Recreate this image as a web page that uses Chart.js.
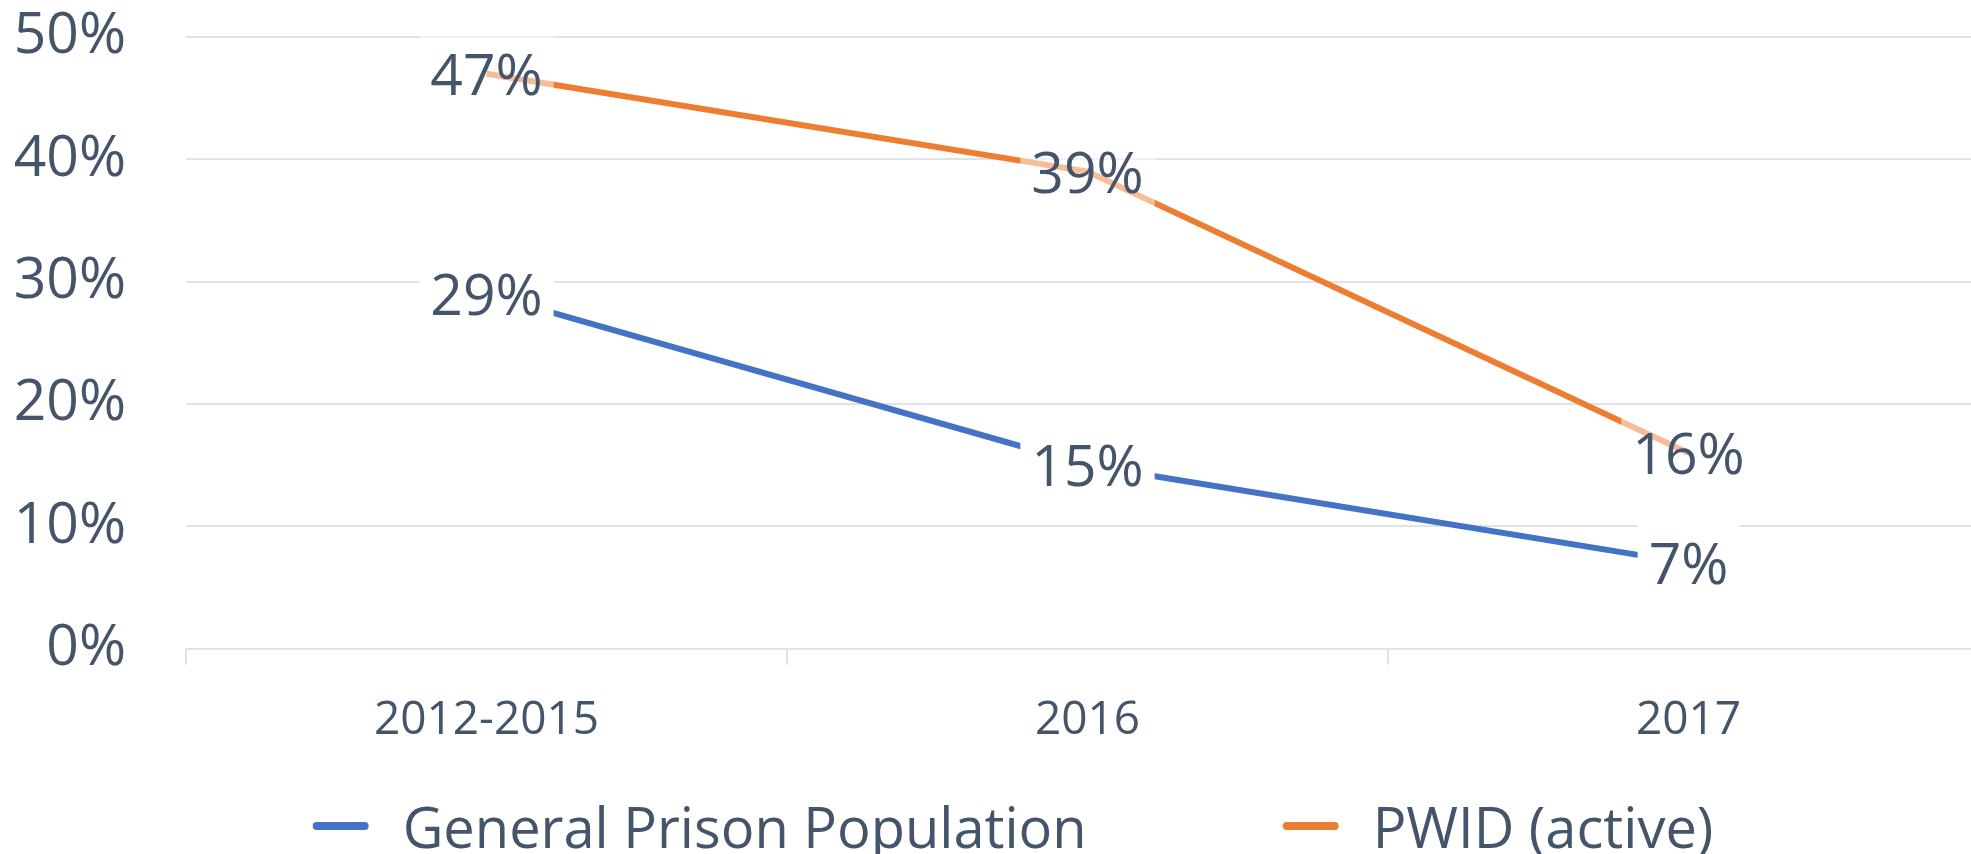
<!DOCTYPE html>
<html>
<head>
<meta charset="utf-8">
<script src="https://cdn.jsdelivr.net/npm/chart.js@4"></script>
<style>
  html, body { margin: 0; padding: 0; background: #fff; overflow: hidden; }
  #wrap { position: relative; width: 1971px; height: 854px; overflow: hidden; }
  #chart { position: absolute; left: 0; top: 0; }
  #legend {
    position: absolute; left: 1013px; top: 798px; transform: translateX(-50%);
    display: flex; align-items: center; white-space: nowrap;
    font-family: "Open Sans"; font-size: 56px; line-height: 1; color: #44546A;
  }
  #legend .item { display: flex; align-items: center; }
  #legend .item + .item { margin-left: 196px; }
  #legend .mark { width: 56px; height: 8px; border-radius: 4px; margin-right: 34px; }
</style>
</head>
<body>
<div id="wrap">
  <canvas id="chart" width="2026" height="854"></canvas>
  <div id="legend"></div>
</div>
<script>
const categories = ["2012-2015", "2016", "2017"];
const generalPrison = [29, 15, 7];
const pwidActive = [47, 39, 16];
const yMax = 50;
const yStep = 10;

const textColor = "#44546A";
const gridColor = "#dfe3e9";

// value labels drawn at each point, on a white box (orange series: half transparent)
const valueLabels = {
  id: "valueLabels",
  afterDatasetsDraw(chart) {
    const ctx = chart.ctx;
    ctx.save();
    ctx.font = '57px "Open Sans"';
    ctx.textAlign = "center";
    ctx.textBaseline = "alphabetic";
    chart.data.datasets.forEach(function (ds, i) {
      const meta = chart.getDatasetMeta(i);
      meta.data.forEach(function (pt, j) {
        const text = ds.data[j] + "%";
        const w = ctx.measureText(text).width + 22;
        const h = 86;
        ctx.fillStyle = ds.labelBg;
        ctx.fillRect(pt.x - w / 2, pt.y - h / 2, w, h);
        ctx.fillStyle = textColor;
        ctx.fillText(text, pt.x, pt.y + 21);
      });
    });
    ctx.restore();
  }
};

const chart = new Chart(document.getElementById("chart").getContext("2d"), {
  type: "line",
  data: {
    labels: categories,
    datasets: [{
      label: "General Prison Population",
      data: generalPrison,
      borderColor: "#4472C4",
      backgroundColor: "#4472C4",
      borderWidth: 6,
      pointRadius: 0,
      tension: 0,
      labelBg: "#ffffff"
    }, {
      label: "PWID (active)",
      data: pwidActive,
      borderColor: "#ED7D31",
      backgroundColor: "#ED7D31",
      borderWidth: 6,
      pointRadius: 0,
      tension: 0,
      labelBg: "rgba(255,255,255,0.5)"
    }]
  },
  options: {
    responsive: false,
    devicePixelRatio: 1,
    animation: false,
    layout: { padding: { left: 13, right: 37, top: 37, bottom: 78 } },
    plugins: {
      legend: { display: false },
      tooltip: { enabled: false }
    },
    scales: {
      x: {
        offset: true,
        grid: {
          offset: true,
          drawOnChartArea: false,
          drawTicks: true,
          tickLength: 16,
          color: gridColor,
          lineWidth: 2
        },
        border: { display: false },
        ticks: {
          color: textColor,
          font: { family: "Open Sans", size: 46 },
          padding: 28,
          maxRotation: 0
        }
      },
      y: {
        min: 0,
        max: yMax,
        grid: { drawTicks: false, color: gridColor, lineWidth: 2 },
        border: { display: false },
        ticks: {
          stepSize: yStep,
          color: textColor,
          font: { family: "Open Sans", size: 57 },
          padding: 60,
          callback: function (v) { return v + "%"; }
        },
        afterFit: function (scale) {
          scale.width = 173;
          scale.paddingTop = 0;
          scale.paddingBottom = 0;
        }
      }
    }
  },
  plugins: [valueLabels]
});

// html legend built from the datasets
const legend = document.getElementById("legend");
chart.data.datasets.forEach(function (ds) {
  const item = document.createElement("div");
  item.className = "item";
  const mark = document.createElement("span");
  mark.className = "mark";
  mark.style.background = ds.borderColor;
  const txt = document.createElement("span");
  txt.textContent = ds.label;
  item.appendChild(mark);
  item.appendChild(txt);
  legend.appendChild(item);
});
</script>
</body>
</html>
